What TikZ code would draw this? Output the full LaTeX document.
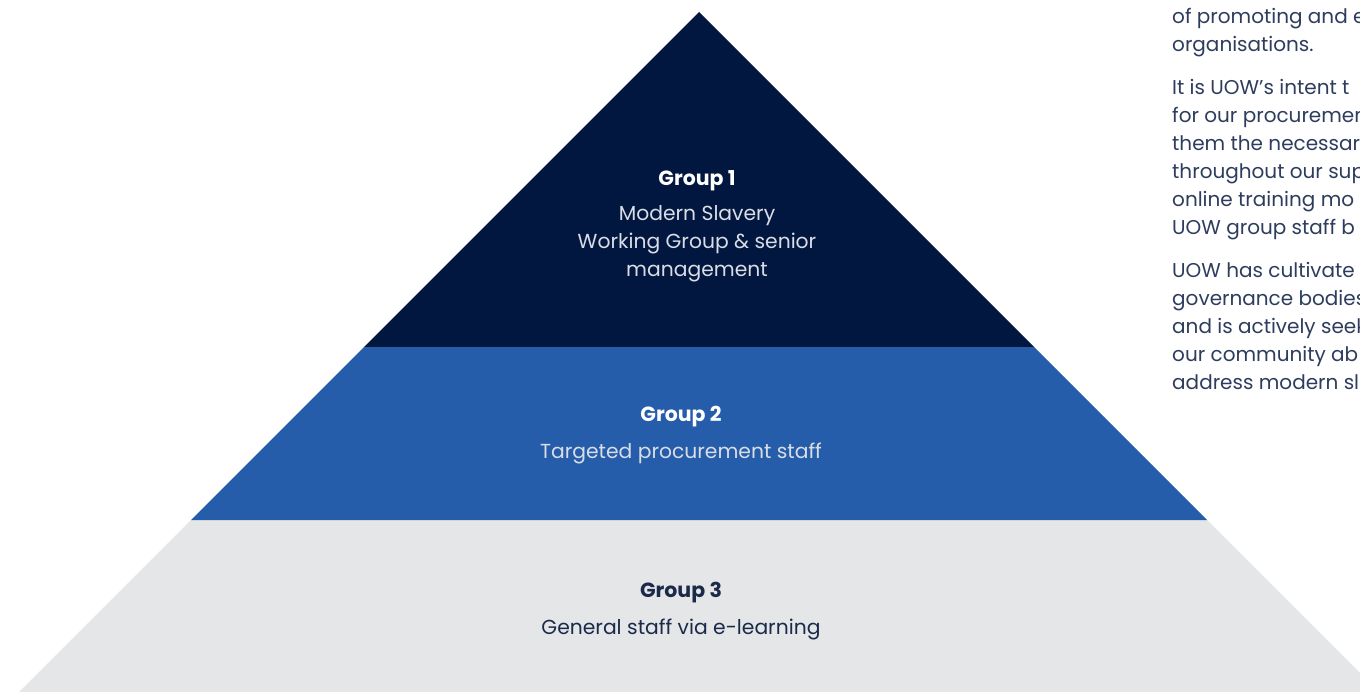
\documentclass[tikz,border=0pt]{standalone}
\usepackage{fontspec}
\setmainfont{Poppins}
\definecolor{navy}{HTML}{02173F}
\definecolor{midblue}{HTML}{255DAA}
\definecolor{lightgrey}{HTML}{E5E6E8}
\definecolor{inktext}{HTML}{1B2A4A}
\definecolor{bodytext}{HTML}{2E3D5E}
\definecolor{paletext}{HTML}{D9DDE6}
\begin{document}
\begin{tikzpicture}[x=1pt,y=-1pt,
  title/.style={font=\fontsize{20.5}{24}\selectfont\bfseries, inner sep=0pt},
  sub/.style={font=\fontsize{20.3}{28}\selectfont, inner sep=0pt, align=center},
  para/.style={font=\fontsize{20}{28}\selectfont, inner sep=0pt, align=left, anchor=north west, text=bodytext}]
\useasboundingbox (0,0) rectangle (1360,692);
\clip (0,0) rectangle (1360,692);
\fill[white] (0,0) rectangle (1360,692);
% bands
\fill[lightgrey] (191,520) -- (1207,520) -- (1379,692) -- (19,692) -- cycle;
\fill[midblue] (364,347) -- (1034,347) -- (1207,520) -- (191,520) -- cycle;
\fill[navy] (699,12) -- (1034,347) -- (364,347) -- cycle;
% labels
\node[title, text=white] (g1) at (697,181) {Group 1};
\node[sub, text=paletext] (g1s) at (697,244) {Modern Slavery\\Working Group \& senior\\management};
\node[title, text=white] (g2) at (681,417) {Group 2};
\node[sub, text=paletext] (g2s) at (681,453) {Targeted procurement staff};
\node[title, text=inktext] (g3) at (681,593) {Group 3};
\node[sub, text=inktext] (g3s) at (681,629) {General staff via e-learning};
% right-hand body text (cut off at the right edge, as in the reference)
\node[para] (p1) at (1172,8) {of promoting and e\\organisations.};
\node[para] (p2) at (1172,79) {It is UOW’s intent t\\for our procuremen\\them the necessar\\throughout our sup\\online training mo\\UOW group staff b};
\node[para] (p3) at (1172,262) {UOW has cultivate\\governance bodies\\and is actively seek\\our community ab\\address modern sl};
\end{tikzpicture}
\end{document}
